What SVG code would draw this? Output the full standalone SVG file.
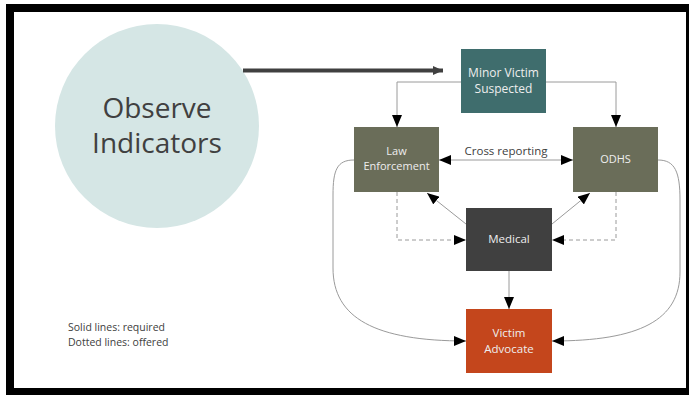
<svg xmlns="http://www.w3.org/2000/svg" width="689" height="395" viewBox="0 0 689 395">
<defs>
<marker id="ah" markerUnits="userSpaceOnUse" markerWidth="12" markerHeight="10" viewBox="0 0 12 10" refX="12" refY="5" orient="auto-start-reverse">
<path d="M0,0 L12,5 L0,10 Z" fill="#000"/>
</marker>
<marker id="big" markerUnits="userSpaceOnUse" markerWidth="10" markerHeight="10" viewBox="0 0 10 10" refX="10" refY="5" orient="auto">
<path d="M0,0.5 L10,5 L0,9.5 Z" fill="#404040"/>
</marker>
<style>
.box-t{font-family:"Open Sans","Noto Sans",sans-serif;fill:#eeeeee;text-anchor:middle}
.c{fill:none;stroke:#9a9a9a;stroke-width:1}
.d{fill:none;stroke:#9a9a9a;stroke-width:1;stroke-dasharray:4,3}
.lbl{font-family:"Open Sans","Noto Sans",sans-serif;fill:#404040}
</style>
</defs>
<rect x="0" y="0" width="689" height="395" fill="#fff"/>
<rect x="10" y="8" width="680" height="384" fill="none" stroke="#000" stroke-width="8"/>

<g id="observe">
<circle cx="157" cy="126" r="102" fill="#d5e6e5"/>
<text class="lbl" x="157" y="118" font-size="28" text-anchor="middle">Observe</text>
<text class="lbl" x="157" y="153" font-size="28" text-anchor="middle">Indicators</text>
</g>

<g id="minor-victim">
<rect x="461" y="49" width="85" height="64" fill="#3f6d6d"/>
<text class="box-t" x="503.5" y="77" font-size="12">Minor Victim</text>
<text class="box-t" x="503.5" y="93" font-size="12">Suspected</text>
</g>

<g id="law-enforcement">
<rect x="354" y="127" width="85" height="65" fill="#6a6d59"/>
<text class="box-t" x="396.5" y="155" font-size="11">Law</text>
<text class="box-t" x="396.5" y="170" font-size="11">Enforcement</text>
</g>

<g id="odhs">
<rect x="573" y="127" width="85" height="65" fill="#6a6d59"/>
<text class="box-t" x="615.5" y="163" font-size="11">ODHS</text>
</g>

<g id="medical">
<rect x="466" y="208" width="86" height="63" fill="#404040"/>
<text class="box-t" x="509" y="243" font-size="11.5">Medical</text>
</g>

<g id="victim-advocate">
<rect x="466" y="309" width="86" height="64" fill="#c4461c"/>
<text class="box-t" x="509" y="337" font-size="11.5">Victim</text>
<text class="box-t" x="509" y="353" font-size="11.5">Advocate</text>
</g>

<g id="connectors">
<line x1="243" y1="70.5" x2="443" y2="70.5" stroke="#404040" stroke-width="4" marker-end="url(#big)"/>
<polyline class="c" points="461,82 397,82 397,127" marker-end="url(#ah)"/>
<polyline class="c" points="546,82 616,82 616,127" marker-end="url(#ah)"/>
<line class="c" x1="439" y1="160" x2="573" y2="160" marker-start="url(#ah)" marker-end="url(#ah)"/>
<text class="lbl" x="506" y="155" font-size="11.5" text-anchor="middle">Cross reporting</text>
<line class="c" x1="466" y1="224" x2="427" y2="193" marker-end="url(#ah)"/>
<line class="c" x1="552" y1="224" x2="590" y2="193" marker-end="url(#ah)"/>
<polyline class="d" points="397,192 397,240 466,240" marker-end="url(#ah)"/>
<polyline class="d" points="616,192 616,240 552,240" marker-end="url(#ah)"/>
<line class="c" x1="509" y1="271" x2="509" y2="309" marker-end="url(#ah)"/>
<path class="c" d="M354,160 C337,160 333,170 333,195 L333,268 C333,318 375,341 466,341" marker-end="url(#ah)"/>
<path class="c" d="M658,160 C675,160 680,172 680,200 L680,272 C680,320 640,341 552,341" marker-end="url(#ah)"/>
</g>

<g id="legend">
<text class="lbl" x="68" y="331" font-size="10.5">Solid lines: required</text>
<text class="lbl" x="68" y="346" font-size="10.5">Dotted lines: offered</text>
</g>
</svg>
